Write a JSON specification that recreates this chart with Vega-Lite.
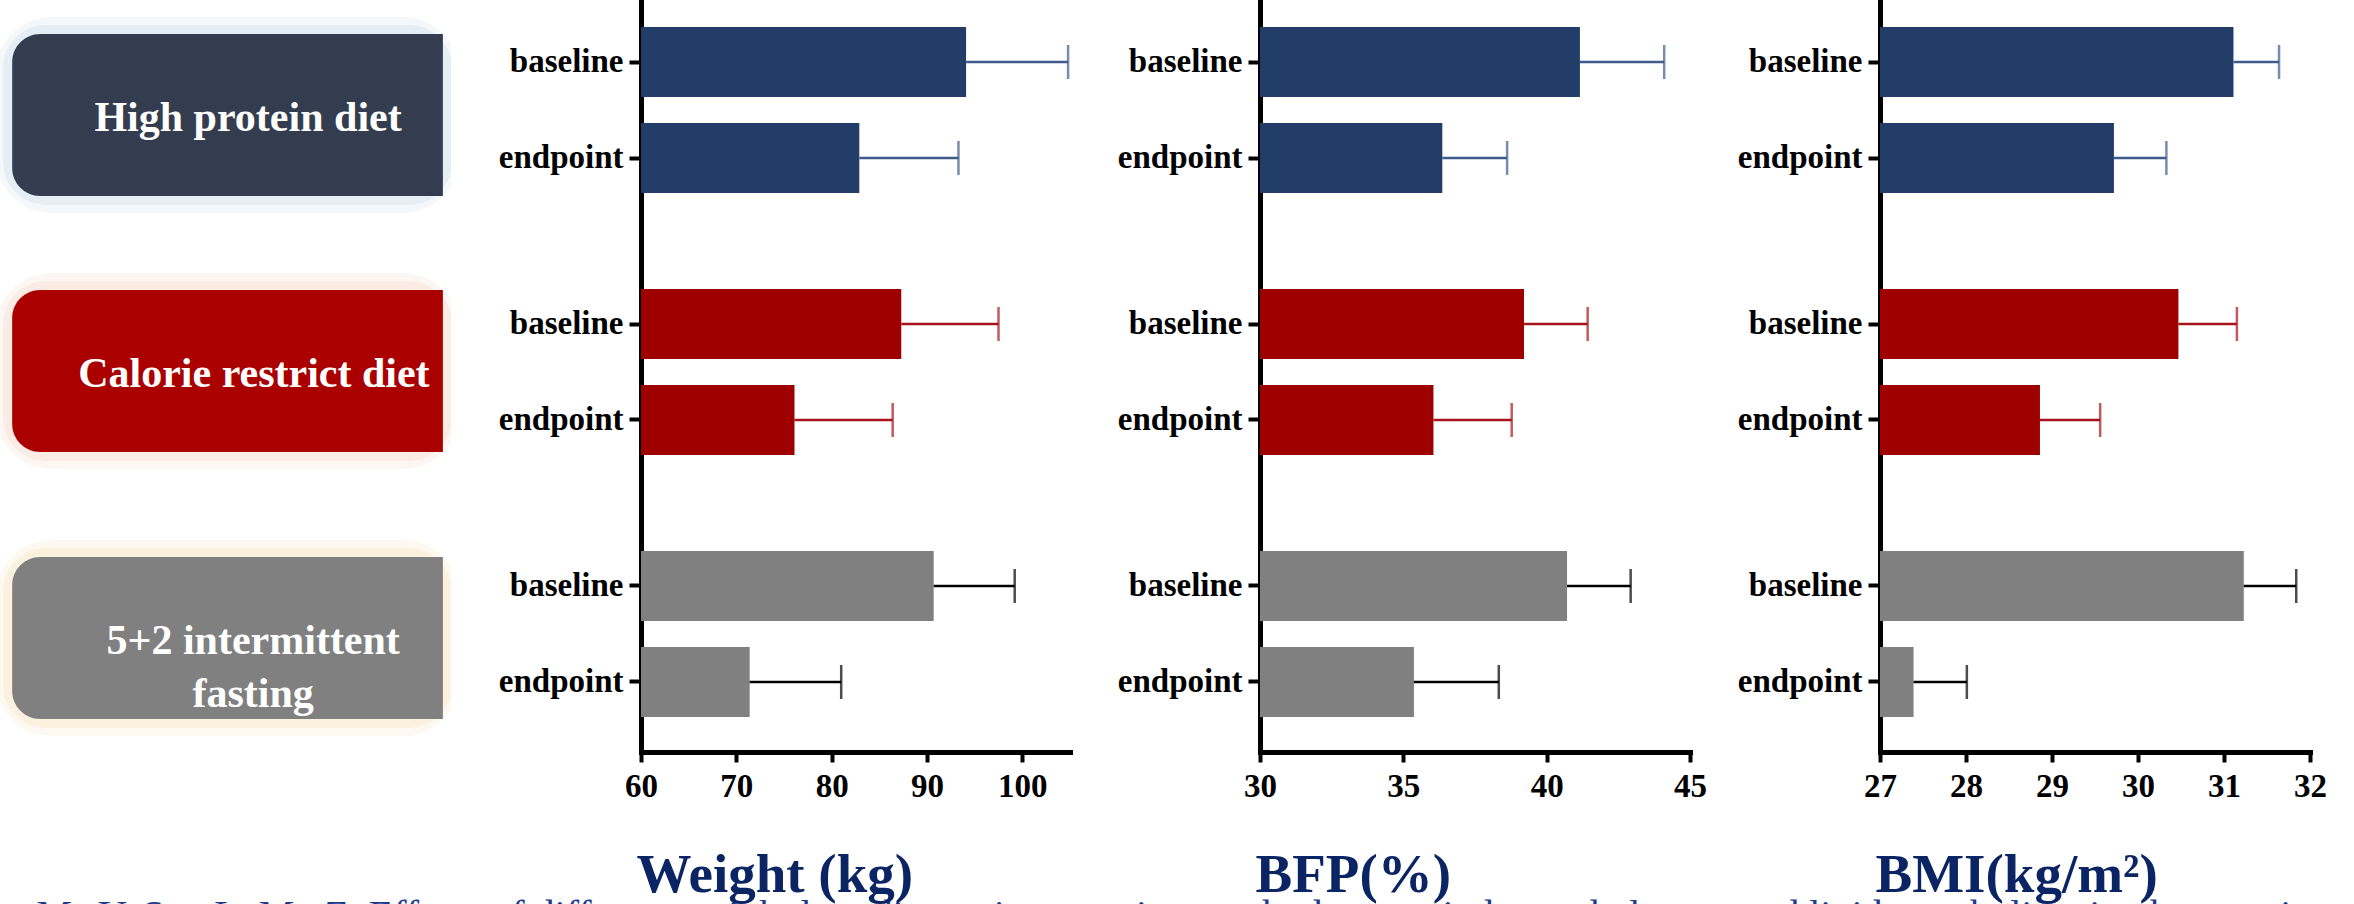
{
  "$schema": "https://vega.github.io/schema/vega-lite/v6.json",
  "background": "white",
  "padding": 0,
  "columns": 4,
  "spacing": {"row": 0, "column": 190},
  "bounds": "flush",
  "align": "each",
  "datasets": {
    "bars": [
      {"m": "Weight", "d": "HP", "time": "baseline", "mean": 94.1, "upper": 104.8},
      {"m": "Weight", "d": "HP", "time": "endpoint", "mean": 82.9, "upper": 93.3},
      {"m": "Weight", "d": "CR", "time": "baseline", "mean": 87.3, "upper": 97.5},
      {"m": "Weight", "d": "CR", "time": "endpoint", "mean": 76.1, "upper": 86.4},
      {"m": "Weight", "d": "IF", "time": "baseline", "mean": 90.7, "upper": 99.2},
      {"m": "Weight", "d": "IF", "time": "endpoint", "mean": 71.4, "upper": 81.0},
      {"m": "BFP", "d": "HP", "time": "baseline", "mean": 41.16, "upper": 44.1},
      {"m": "BFP", "d": "HP", "time": "endpoint", "mean": 36.36, "upper": 38.62},
      {"m": "BFP", "d": "CR", "time": "baseline", "mean": 39.21, "upper": 41.43},
      {"m": "BFP", "d": "CR", "time": "endpoint", "mean": 36.05, "upper": 38.78},
      {"m": "BFP", "d": "IF", "time": "baseline", "mean": 40.71, "upper": 42.93},
      {"m": "BFP", "d": "IF", "time": "endpoint", "mean": 35.37, "upper": 38.33},
      {"m": "BMI", "d": "HP", "time": "baseline", "mean": 31.11, "upper": 31.64},
      {"m": "BMI", "d": "HP", "time": "endpoint", "mean": 29.72, "upper": 30.33},
      {"m": "BMI", "d": "CR", "time": "baseline", "mean": 30.47, "upper": 31.15},
      {"m": "BMI", "d": "CR", "time": "endpoint", "mean": 28.86, "upper": 29.56},
      {"m": "BMI", "d": "IF", "time": "baseline", "mean": 31.23, "upper": 31.84},
      {"m": "BMI", "d": "IF", "time": "endpoint", "mean": 27.39, "upper": 28.01}
    ],
    "labels": [
      {"d": "HP", "label": "High protein diet"},
      {"d": "CR", "label": "Calorie restrict diet"},
      {"d": "IF", "label": "5+2 intermittent\nfasting"}
    ]
  },
  "concat": [
    {
      "width": 451, "height": 241,
      "data": {"name": "labels"},
      "transform": [{"filter": "datum.d=='HP'"}],
      "encoding": {"y": {"field": "d", "type": "nominal", "scale": {"domain": ["HP"], "paddingInner": 0, "paddingOuter": 0.2438, "align": 0.43}, "axis": null}},
      "layer": [
        {"mark": {"type": "bar", "fillOpacity": 0, "stroke": "#b9cde3", "strokeWidth": 34, "strokeOpacity": 0.15, "cornerRadius": 40, "clip": true}, "encoding": {"x": {"datum": 0.027, "type": "quantitative", "scale": {"domain": [0, 1], "nice": false, "zero": false}, "axis": null}, "x2": {"datum": 0.982}}},
        {"mark": {"type": "bar", "fillOpacity": 0, "stroke": "#b9cde3", "strokeWidth": 18, "strokeOpacity": 0.25, "cornerRadius": 34, "clip": true}, "encoding": {"x": {"datum": 0.027, "type": "quantitative", "scale": {"domain": [0, 1], "nice": false, "zero": false}, "axis": null}, "x2": {"datum": 0.982}}},
        {"mark": {"type": "bar", "color": "#343d4f", "cornerRadiusTopLeft": 28, "cornerRadiusBottomLeft": 28}, "encoding": {"x": {"datum": 0.027, "type": "quantitative", "scale": {"domain": [0, 1], "nice": false, "zero": false}, "axis": null}, "x2": {"datum": 0.982}}},
        {"mark": {"type": "text", "color": "white", "font": "Liberation Serif", "fontWeight": "bold", "fontSize": 42, "lineBreak": "\n", "lineHeight": 53, "dy": 3}, "encoding": {"x": {"datum": 0.55, "type": "quantitative", "scale": {"domain": [0, 1], "nice": false, "zero": false}, "axis": null}, "text": {"field": "label"}}}
      ]
    },
    {
      "width": 429, "height": 241,
      "data": {"name": "bars"},
      "transform": [{"filter": "datum.m=='Weight' && datum.d=='HP'"}],
      "encoding": {"y": {"field": "time", "type": "nominal", "scale": {"domain": ["baseline", "endpoint"], "paddingInner": 0.2708, "paddingOuter": 0.3906, "align": 0.36}, "axis": {"title": null}}},
      "layer": [
        {"mark": {"type": "bar", "color": "#213d68"}, "encoding": {"x": {"field": "mean", "type": "quantitative", "scale": {"domain": [60, 105], "nice": false, "zero": false}, "axis": null}, "x2": {"datum": 60}}},
        {"mark": {"type": "rule", "color": "#3e5b8c", "strokeWidth": 2.5}, "encoding": {"x": {"field": "mean", "type": "quantitative", "scale": {"domain": [60, 105], "nice": false, "zero": false}, "axis": null}, "x2": {"field": "upper"}}},
        {"mark": {"type": "tick", "color": "#3e5b8c", "thickness": 2.5, "size": 34}, "encoding": {"x": {"field": "upper", "type": "quantitative", "scale": {"domain": [60, 105], "nice": false, "zero": false}, "axis": null}}}
      ]
    },
    {
      "width": 430, "height": 241,
      "data": {"name": "bars"},
      "transform": [{"filter": "datum.m=='BFP' && datum.d=='HP'"}],
      "encoding": {"y": {"field": "time", "type": "nominal", "scale": {"domain": ["baseline", "endpoint"], "paddingInner": 0.2708, "paddingOuter": 0.3906, "align": 0.36}, "axis": {"title": null}}},
      "layer": [
        {"mark": {"type": "bar", "color": "#213d68"}, "encoding": {"x": {"field": "mean", "type": "quantitative", "scale": {"domain": [30, 45], "nice": false, "zero": false}, "axis": null}, "x2": {"datum": 30}}},
        {"mark": {"type": "rule", "color": "#3e5b8c", "strokeWidth": 2.5}, "encoding": {"x": {"field": "mean", "type": "quantitative", "scale": {"domain": [30, 45], "nice": false, "zero": false}, "axis": null}, "x2": {"field": "upper"}}},
        {"mark": {"type": "tick", "color": "#3e5b8c", "thickness": 2.5, "size": 34}, "encoding": {"x": {"field": "upper", "type": "quantitative", "scale": {"domain": [30, 45], "nice": false, "zero": false}, "axis": null}}}
      ]
    },
    {
      "width": 430, "height": 241,
      "data": {"name": "bars"},
      "transform": [{"filter": "datum.m=='BMI' && datum.d=='HP'"}],
      "encoding": {"y": {"field": "time", "type": "nominal", "scale": {"domain": ["baseline", "endpoint"], "paddingInner": 0.2708, "paddingOuter": 0.3906, "align": 0.36}, "axis": {"title": null}}},
      "layer": [
        {"mark": {"type": "bar", "color": "#213d68"}, "encoding": {"x": {"field": "mean", "type": "quantitative", "scale": {"domain": [27, 32], "nice": false, "zero": false}, "axis": null}, "x2": {"datum": 27}}},
        {"mark": {"type": "rule", "color": "#3e5b8c", "strokeWidth": 2.5}, "encoding": {"x": {"field": "mean", "type": "quantitative", "scale": {"domain": [27, 32], "nice": false, "zero": false}, "axis": null}, "x2": {"field": "upper"}}},
        {"mark": {"type": "tick", "color": "#3e5b8c", "thickness": 2.5, "size": 34}, "encoding": {"x": {"field": "upper", "type": "quantitative", "scale": {"domain": [27, 32], "nice": false, "zero": false}, "axis": null}}}
      ]
    },
    {
      "width": 451, "height": 262,
      "data": {"name": "labels"},
      "transform": [{"filter": "datum.d=='CR'"}],
      "encoding": {"y": {"field": "d", "type": "nominal", "scale": {"domain": ["CR"], "paddingInner": 0, "paddingOuter": 0.3086, "align": 0.49}, "axis": null}},
      "layer": [
        {"mark": {"type": "bar", "fillOpacity": 0, "stroke": "#f2c9b8", "strokeWidth": 34, "strokeOpacity": 0.15, "cornerRadius": 40, "clip": true}, "encoding": {"x": {"datum": 0.027, "type": "quantitative", "scale": {"domain": [0, 1], "nice": false, "zero": false}, "axis": null}, "x2": {"datum": 0.982}}},
        {"mark": {"type": "bar", "fillOpacity": 0, "stroke": "#f2c9b8", "strokeWidth": 18, "strokeOpacity": 0.25, "cornerRadius": 34, "clip": true}, "encoding": {"x": {"datum": 0.027, "type": "quantitative", "scale": {"domain": [0, 1], "nice": false, "zero": false}, "axis": null}, "x2": {"datum": 0.982}}},
        {"mark": {"type": "bar", "color": "#ab0000", "cornerRadiusTopLeft": 28, "cornerRadiusBottomLeft": 28}, "encoding": {"x": {"datum": 0.027, "type": "quantitative", "scale": {"domain": [0, 1], "nice": false, "zero": false}, "axis": null}, "x2": {"datum": 0.982}}},
        {"mark": {"type": "text", "color": "white", "font": "Liberation Serif", "fontWeight": "bold", "fontSize": 42, "lineBreak": "\n", "lineHeight": 53, "dy": 3}, "encoding": {"x": {"datum": 0.563, "type": "quantitative", "scale": {"domain": [0, 1], "nice": false, "zero": false}, "axis": null}, "text": {"field": "label"}}}
      ]
    },
    {
      "width": 429, "height": 262,
      "data": {"name": "bars"},
      "transform": [{"filter": "datum.m=='Weight' && datum.d=='CR'"}],
      "encoding": {"y": {"field": "time", "type": "nominal", "scale": {"domain": ["baseline", "endpoint"], "paddingInner": 0.2708, "paddingOuter": 0.5, "align": 0.5}, "axis": {"title": null}}},
      "layer": [
        {"mark": {"type": "bar", "color": "#9e0000"}, "encoding": {"x": {"field": "mean", "type": "quantitative", "scale": {"domain": [60, 105], "nice": false, "zero": false}, "axis": null}, "x2": {"datum": 60}}},
        {"mark": {"type": "rule", "color": "#a8141c", "strokeWidth": 2.5}, "encoding": {"x": {"field": "mean", "type": "quantitative", "scale": {"domain": [60, 105], "nice": false, "zero": false}, "axis": null}, "x2": {"field": "upper"}}},
        {"mark": {"type": "tick", "color": "#a8141c", "thickness": 2.5, "size": 34}, "encoding": {"x": {"field": "upper", "type": "quantitative", "scale": {"domain": [60, 105], "nice": false, "zero": false}, "axis": null}}}
      ]
    },
    {
      "width": 430, "height": 262,
      "data": {"name": "bars"},
      "transform": [{"filter": "datum.m=='BFP' && datum.d=='CR'"}],
      "encoding": {"y": {"field": "time", "type": "nominal", "scale": {"domain": ["baseline", "endpoint"], "paddingInner": 0.2708, "paddingOuter": 0.5, "align": 0.5}, "axis": {"title": null}}},
      "layer": [
        {"mark": {"type": "bar", "color": "#9e0000"}, "encoding": {"x": {"field": "mean", "type": "quantitative", "scale": {"domain": [30, 45], "nice": false, "zero": false}, "axis": null}, "x2": {"datum": 30}}},
        {"mark": {"type": "rule", "color": "#a8141c", "strokeWidth": 2.5}, "encoding": {"x": {"field": "mean", "type": "quantitative", "scale": {"domain": [30, 45], "nice": false, "zero": false}, "axis": null}, "x2": {"field": "upper"}}},
        {"mark": {"type": "tick", "color": "#a8141c", "thickness": 2.5, "size": 34}, "encoding": {"x": {"field": "upper", "type": "quantitative", "scale": {"domain": [30, 45], "nice": false, "zero": false}, "axis": null}}}
      ]
    },
    {
      "width": 430, "height": 262,
      "data": {"name": "bars"},
      "transform": [{"filter": "datum.m=='BMI' && datum.d=='CR'"}],
      "encoding": {"y": {"field": "time", "type": "nominal", "scale": {"domain": ["baseline", "endpoint"], "paddingInner": 0.2708, "paddingOuter": 0.5, "align": 0.5}, "axis": {"title": null}}},
      "layer": [
        {"mark": {"type": "bar", "color": "#9e0000"}, "encoding": {"x": {"field": "mean", "type": "quantitative", "scale": {"domain": [27, 32], "nice": false, "zero": false}, "axis": null}, "x2": {"datum": 27}}},
        {"mark": {"type": "rule", "color": "#a8141c", "strokeWidth": 2.5}, "encoding": {"x": {"field": "mean", "type": "quantitative", "scale": {"domain": [27, 32], "nice": false, "zero": false}, "axis": null}, "x2": {"field": "upper"}}},
        {"mark": {"type": "tick", "color": "#a8141c", "thickness": 2.5, "size": 34}, "encoding": {"x": {"field": "upper", "type": "quantitative", "scale": {"domain": [27, 32], "nice": false, "zero": false}, "axis": null}}}
      ]
    },
    {
      "width": 451, "height": 249,
      "data": {"name": "labels"},
      "transform": [{"filter": "datum.d=='IF'"}],
      "encoding": {
        "y": {"field": "d", "type": "nominal", "scale": {"domain": ["IF"], "paddingInner": 0, "paddingOuter": 0.2685, "align": 0.6207}, "axis": null},
        "x": {"datum": 0.027, "type": "quantitative", "scale": {"domain": [0, 1], "nice": false, "zero": false}, "axis": {"title": "Ma Y, Sun L, Mu Z. Effects of different weight loss dietary interventions on body mass index and glucose and lipid metabolism in obese patients. Medicine (Baltimore). 2023;102(13):e33254.", "domain": false, "ticks": false, "labels": false, "titleX": 36, "titleY": 175, "titleFontSize": 40, "titleFontWeight": "normal", "titleColor": "#1d3a8c", "titleLimit": 2318}}
      },
      "layer": [
        {"mark": {"type": "bar", "fillOpacity": 0, "stroke": "#f5ddb0", "strokeWidth": 34, "strokeOpacity": 0.18, "cornerRadius": 40, "clip": true}, "encoding": {"x2": {"datum": 0.982}}},
        {"mark": {"type": "bar", "fillOpacity": 0, "stroke": "#f5ddb0", "strokeWidth": 18, "strokeOpacity": 0.28, "cornerRadius": 34, "clip": true}, "encoding": {"x2": {"datum": 0.982}}},
        {"mark": {"type": "bar", "color": "#808080", "cornerRadiusTopLeft": 28, "cornerRadiusBottomLeft": 28}, "encoding": {"x2": {"datum": 0.982}}},
        {"mark": {"type": "text", "color": "white", "font": "Liberation Serif", "fontWeight": "bold", "fontSize": 42, "lineBreak": "\n", "lineHeight": 53, "dy": 3, "dx": 241}, "encoding": {"text": {"field": "label"}}}
      ]
    },
    {
      "width": 429, "height": 249,
      "data": {"name": "bars"},
      "transform": [{"filter": "datum.m=='Weight' && datum.d=='IF'"}],
      "encoding": {
        "y": {"field": "time", "type": "nominal", "scale": {"domain": ["baseline", "endpoint"], "paddingInner": 0.2708, "paddingOuter": 0.4323, "align": 0.5783}, "axis": {"title": null}},
        "x": {"field": "mean", "type": "quantitative", "scale": {"domain": [60, 105], "nice": false, "zero": false}, "axis": {"title": "Weight (kg)", "values": [60, 70, 80, 90, 100]}}
      },
      "layer": [
        {"mark": {"type": "bar", "color": "#808080"}, "encoding": {"x2": {"datum": 60}}},
        {"mark": {"type": "rule", "color": "black", "strokeWidth": 2.5}, "encoding": {"x2": {"field": "upper"}}},
        {"mark": {"type": "tick", "color": "black", "thickness": 2.5, "size": 34}, "encoding": {"x": {"field": "upper", "type": "quantitative", "scale": {"domain": [60, 105], "nice": false, "zero": false}, "axis": {"title": "Weight (kg)", "values": [60, 70, 80, 90, 100]}}}}
      ]
    },
    {
      "width": 430, "height": 249,
      "data": {"name": "bars"},
      "transform": [{"filter": "datum.m=='BFP' && datum.d=='IF'"}],
      "encoding": {
        "y": {"field": "time", "type": "nominal", "scale": {"domain": ["baseline", "endpoint"], "paddingInner": 0.2708, "paddingOuter": 0.4323, "align": 0.5783}, "axis": {"title": null}},
        "x": {"field": "mean", "type": "quantitative", "scale": {"domain": [30, 45], "nice": false, "zero": false}, "axis": {"title": "BFP(%)", "values": [30, 35, 40, 45]}}
      },
      "layer": [
        {"mark": {"type": "bar", "color": "#808080"}, "encoding": {"x2": {"datum": 30}}},
        {"mark": {"type": "rule", "color": "black", "strokeWidth": 2.5}, "encoding": {"x2": {"field": "upper"}}},
        {"mark": {"type": "tick", "color": "black", "thickness": 2.5, "size": 34}, "encoding": {"x": {"field": "upper", "type": "quantitative", "scale": {"domain": [30, 45], "nice": false, "zero": false}, "axis": {"title": "BFP(%)", "values": [30, 35, 40, 45]}}}}
      ]
    },
    {
      "width": 430, "height": 249,
      "data": {"name": "bars"},
      "transform": [{"filter": "datum.m=='BMI' && datum.d=='IF'"}],
      "encoding": {
        "y": {"field": "time", "type": "nominal", "scale": {"domain": ["baseline", "endpoint"], "paddingInner": 0.2708, "paddingOuter": 0.4323, "align": 0.5783}, "axis": {"title": null}},
        "x": {"field": "mean", "type": "quantitative", "scale": {"domain": [27, 32], "nice": false, "zero": false}, "axis": {"title": "BMI(kg/m²)", "values": [27, 28, 29, 30, 31, 32]}}
      },
      "layer": [
        {"mark": {"type": "bar", "color": "#808080"}, "encoding": {"x2": {"datum": 27}}},
        {"mark": {"type": "rule", "color": "black", "strokeWidth": 2.5}, "encoding": {"x2": {"field": "upper"}}},
        {"mark": {"type": "tick", "color": "black", "thickness": 2.5, "size": 34}, "encoding": {"x": {"field": "upper", "type": "quantitative", "scale": {"domain": [27, 32], "nice": false, "zero": false}, "axis": {"title": "BMI(kg/m²)", "values": [27, 28, 29, 30, 31, 32]}}}}
      ]
    }
  ],
  "config": {
    "view": {"stroke": null},
    "font": "Liberation Serif",
    "axis": {"grid": false, "domainColor": "black", "tickColor": "black", "labelColor": "black", "labelFont": "Liberation Serif", "labelFontWeight": "bold", "zindex": 1, "labelFlush": false, "domainCap": "square"},
    "axisY": {"domainWidth": 5, "tickWidth": 4, "tickSize": 12, "labelFontSize": 33, "labelPadding": 6},
    "axisX": {"domainWidth": 5, "tickWidth": 4, "tickSize": 10, "labelFontSize": 33, "labelPadding": 8, "titleFont": "Liberation Serif", "titleFontWeight": "bold", "titleFontSize": 55, "titleColor": "#0b2463", "titleAnchor": "start", "titleAlign": "left", "titleBaseline": "alphabetic", "titleX": -5, "titleY": 139}
  }
}
